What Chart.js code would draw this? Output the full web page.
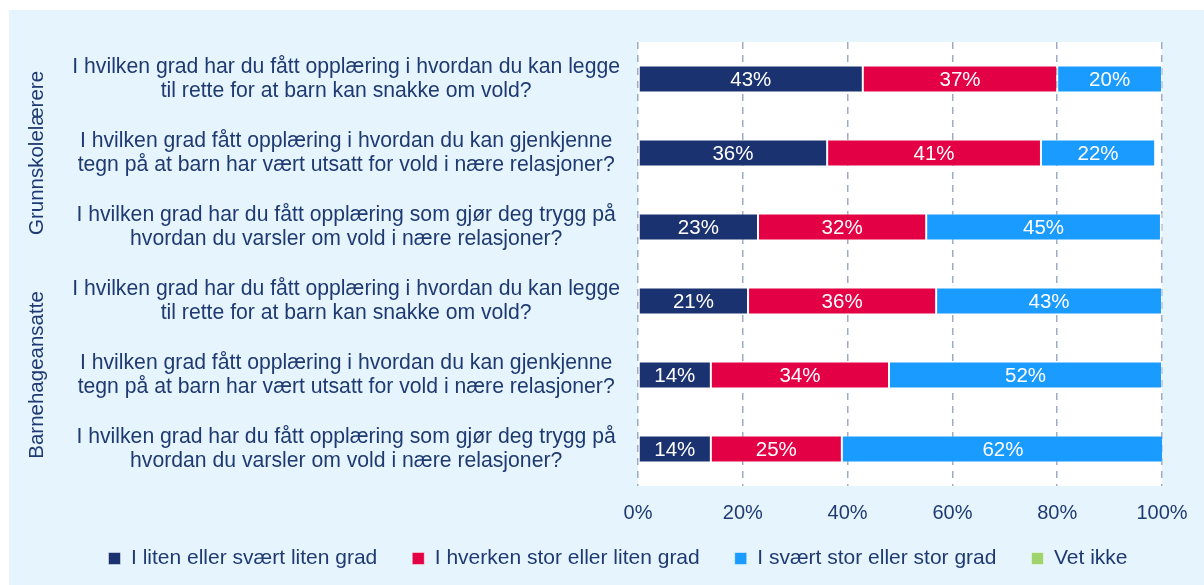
<!DOCTYPE html>
<html><head><meta charset="utf-8">
<script src="https://cdn.jsdelivr.net/npm/chart.js@4.4.1/dist/chart.umd.min.js"></script>
<style>
html,body{margin:0;padding:0;background:#fff;width:1204px;height:585px;overflow:hidden}
#panel{position:absolute;left:9px;top:10px;width:1195px;height:575px;background:#e6f5fd}
#wrap{position:absolute;left:0;top:0;width:1204px;height:585px}
</style></head><body>
<div id="panel"></div>
<div id="wrap"><canvas id="c" width="1204" height="585"></canvas></div>
<script>
const questions = [
  ['I hvilken grad har du fått opplæring i hvordan du kan legge', 'til rette for at barn kan snakke om vold?'],
  ['I hvilken grad fått opplæring i hvordan du kan gjenkjenne', 'tegn på at barn har vært utsatt for vold i nære relasjoner?'],
  ['I hvilken grad har du fått opplæring som gjør deg trygg på', 'hvordan du varsler om vold i nære relasjoner?'],
  ['I hvilken grad har du fått opplæring i hvordan du kan legge', 'til rette for at barn kan snakke om vold?'],
  ['I hvilken grad fått opplæring i hvordan du kan gjenkjenne', 'tegn på at barn har vært utsatt for vold i nære relasjoner?'],
  ['I hvilken grad har du fått opplæring som gjør deg trygg på', 'hvordan du varsler om vold i nære relasjoner?']
];
const groups = ['Grunnskolelærere', 'Barnehageansatte'];
const seriesNames = ['I liten eller svært liten grad', 'I hverken stor eller liten grad', 'I svært stor eller stor grad', 'Vet ikke'];
const litenGrad   = [42.9, 36.1, 22.9, 21.0, 13.9, 13.9];
const hverkenGrad = [37.1, 40.8, 32.1, 35.9, 34.0, 25.0];
const storGrad    = [20.0, 21.8, 44.8, 43.1, 52.1, 61.5];
const vetIkke     = [0, 0, 0.3, 0.3, 0, 0];
const xTicks = [0, 20, 40, 60, 80, 100];

const NAVY_TEXT = '#1f3a72';
const colors = ['#1b3270', '#e30045', '#1a9bff', '#9fd46c'];
const FONT = "'Liberation Sans', Arial, sans-serif";

const bgPlugin = {
  id: 'bg',
  beforeDraw(chart) {
    const {ctx, chartArea: a} = chart;
    ctx.save(); ctx.fillStyle = '#ffffff';
    ctx.fillRect(a.left, a.top, a.right - a.left, a.bottom - a.top);
    ctx.restore();
  }
};
const layoutTweaks = {
  id: 'layoutTweaks',
  afterLayout(chart) {
    if (chart.legend) { chart.legend.left += 37; chart.legend.right += 37; }
    // let the x tick labels draw below the shortened axis box without clipping
    chart.scales.x.bottom = chart.height;
  }
};
const valueLabels = {
  id: 'valueLabels',
  afterDatasetsDraw(chart) {
    const {ctx} = chart;
    ctx.save();
    ctx.font = '20.5px ' + FONT;
    ctx.fillStyle = '#ffffff';
    ctx.textAlign = 'center'; ctx.textBaseline = 'middle';
    chart.data.datasets.forEach((ds, di) => {
      const meta = chart.getDatasetMeta(di);
      meta.data.forEach((el, i) => {
        const v = ds.data[i];
        if (v < 3) return;
        const p = el.getProps(['x', 'y', 'base'], true);
        ctx.fillText(Math.round(v) + '%', (p.x + p.base) / 2, p.y + 1);
      });
    });
    ctx.restore();
  }
};
const groupLabels = {
  id: 'groupLabels',
  afterDraw(chart) {
    const {ctx} = chart;
    const ys = chart.scales.y;
    ctx.save();
    ctx.font = '20.5px ' + FONT;
    ctx.fillStyle = NAVY_TEXT;
    ctx.textAlign = 'center'; ctx.textBaseline = 'middle';
    groups.forEach((g, gi) => {
      const yc = (ys.getPixelForValue(gi * 3) + ys.getPixelForValue(gi * 3 + 2)) / 2;
      ctx.save();
      ctx.translate(37, yc);
      ctx.rotate(-Math.PI / 2);
      ctx.fillText(g, 0, 0);
      ctx.restore();
    });
    ctx.restore();
  }
};

const seriesData = [litenGrad, hverkenGrad, storGrad, vetIkke];
new Chart(document.getElementById('c'), {
  type: 'bar',
  data: {
    labels: questions,
    datasets: seriesNames.map((n, i) => ({
      label: n,
      data: seriesData[i],
      backgroundColor: colors[i],
      borderColor: 'rgba(255,255,255,0.45)',
      borderWidth: 1,
      borderSkipped: false,
      barPercentage: 0.365,
      categoryPercentage: 1
    }))
  },
  options: {
    indexAxis: 'y',
    responsive: false,
    animation: false,
    devicePixelRatio: 1,
    layout: {padding: {left: 0, right: 42, top: 39, bottom: 6}},
    scales: {
      x: {
        stacked: true, min: 0, max: 100,
        afterBuildTicks(s) { s.ticks = xTicks.map(v => ({value: v})); },
        afterFit(s) { s.height = s.height - 27; },
        ticks: {callback: v => v + '%', color: NAVY_TEXT, font: {size: 20, family: FONT}, padding: 15},
        grid: {color: '#9eabc6', lineWidth: 1.5, drawTicks: false},
        border: {display: false, dash: [7, 6]}
      },
      y: {
        stacked: true,
        afterFit(s) { s.width = 638; },
        ticks: {crossAlign: 'center', padding: 18, color: NAVY_TEXT, font: {size: 21.2, family: FONT, lineHeight: 1.13}},
        grid: {display: false, drawTicks: false},
        border: {display: false}
      }
    },
    plugins: {
      legend: {
        position: 'bottom',
        labels: {boxWidth: 12, boxHeight: 12, color: NAVY_TEXT, font: {size: 21, family: FONT}, padding: 35}
      },
      tooltip: {enabled: false}
    }
  },
  plugins: [bgPlugin, layoutTweaks, valueLabels, groupLabels]
});
</script>
</body></html>
